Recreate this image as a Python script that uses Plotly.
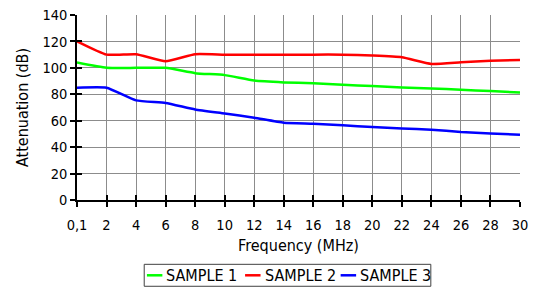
import plotly.graph_objects as go

freq_labels = ["0,1", "2", "4", "6", "8", "10", "12", "14", "16", "18", "20", "22", "24", "26", "28", "30"]
sample1 = [104, 100, 100, 100, 96, 94.5, 90.4, 89, 88.3, 87.2, 86.2, 85.1, 84.4, 83.4, 82.4, 81.4]
sample2 = [120, 110, 110.3, 105, 110.3, 110, 110, 110, 110, 110, 109.3, 108, 103, 104.2, 105.3, 106]
sample3 = [85, 85, 75.4, 73.4, 68.5, 65.5, 62.3, 58.5, 57.7, 56.5, 55.2, 54.2, 53.2, 51.5, 50.4, 49.4]
series_names = ["SAMPLE 1", "SAMPLE 2", "SAMPLE 3"]
series_colors = ["#00FF00", "#FF0000", "#0000FF"]
y_ticks = [0, 20, 40, 60, 80, 100, 120, 140]

W, H = 538, 289
L, R, T, B = 76.7, 520.3, 15, 200.5
FONT = "DejaVu Sans Condensed, DejaVu Sans"

xidx = list(range(len(freq_labels)))
fig = go.Figure()
for name, vals, col in zip(series_names, [sample1, sample2, sample3], series_colors):
    fig.add_trace(go.Scatter(x=xidx, y=vals, mode="lines", name=name,
                             line=dict(color=col, width=2.5, shape="spline", smoothing=0.45),
                             showlegend=False))

axis_common = dict(showline=True, linecolor="black", linewidth=1.5, ticklen=5,
                   tickcolor="black", tickwidth=1.5)
fig.update_layout(
    width=W, height=H,
    margin=dict(l=L, r=W - R, t=T, b=H - B, autoexpand=False),
    paper_bgcolor="white", plot_bgcolor="white",
    font=dict(family=FONT, size=14.5, color="black"),
    xaxis=dict(range=[0, len(freq_labels) - 1], tickvals=xidx, ticktext=freq_labels,
               ticks="outside", showgrid=True, gridcolor="#8c8c8c", gridwidth=1,
               zeroline=False, automargin=False,
               title=dict(text="Frequency (MHz)", standoff=8, font=dict(size=16)),
               ticklabelstandoff=6, **axis_common),
    yaxis=dict(range=[0, 140], tickvals=y_ticks, ticks="outside", showgrid=True,
               gridcolor="#8c8c8c", gridwidth=1, zeroline=False, automargin=False,
               title=dict(text="Attenuation (dB)", standoff=10, font=dict(size=16)),
               **axis_common),
    xaxis2=dict(overlaying="x", anchor="y", range=[0, len(freq_labels) - 1], tickvals=xidx,
                ticks="inside", showticklabels=False, showgrid=False, zeroline=False,
                **axis_common),
    yaxis2=dict(overlaying="y", anchor="x", side="left", range=[0, 140], tickvals=y_ticks,
                ticks="inside", showticklabels=False, showgrid=False, zeroline=False,
                **axis_common),
)
fig.add_trace(go.Scatter(x=[0], y=[0], xaxis="x2", yaxis="y2", mode="markers",
                         marker=dict(opacity=0), showlegend=False, hoverinfo="skip"))

def px(x):
    return (x - L) / (R - L)

def py(y):
    return (B - y) / (B - T)

shapes = [dict(type="rect", xref="paper", yref="paper", x0=px(144), x1=px(431),
               y0=py(287), y1=py(265), line=dict(color="#404040", width=1), fillcolor="white")]
annots = []
line_starts = [146.7, 245, 340.7]
for xs, name, col in zip(line_starts, series_names, series_colors):
    shapes.append(dict(type="line", xref="paper", yref="paper", x0=px(xs), x1=px(xs + 15.5),
                       y0=py(276), y1=py(276), line=dict(color=col, width=2.5)))
    annots.append(dict(xref="paper", yref="paper", x=px(xs + 17.5), y=py(276.5), text=name,
                       showarrow=False, xanchor="left", yanchor="middle",
                       font=dict(family=FONT, size=16, color="black")))
fig.update_layout(shapes=shapes, annotations=annots)

fig.write_html("out.html", config={"displayModeBar": False},
               post_script="document.body.style.margin='0';")
